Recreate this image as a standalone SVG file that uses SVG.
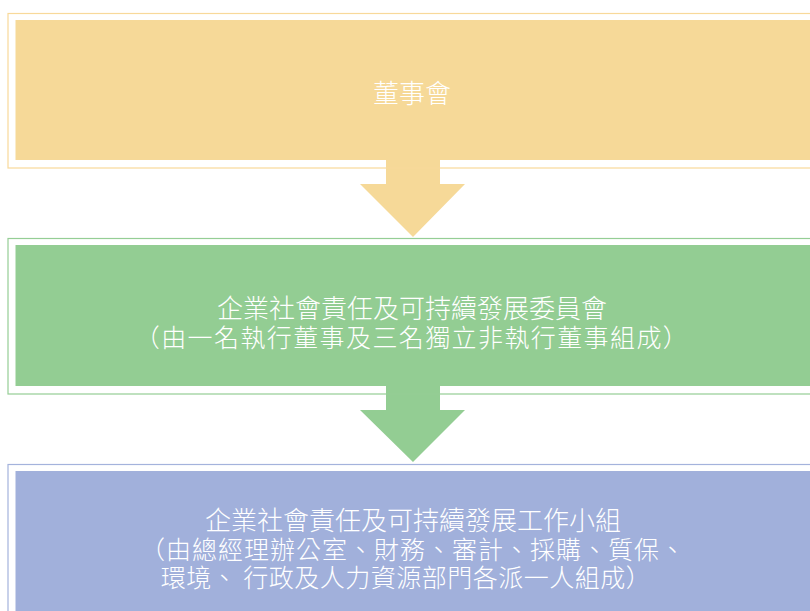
<svg xmlns="http://www.w3.org/2000/svg" width="810" height="611" viewBox="0 0 810 611">
<style>
text{font-family:"Noto Sans CJK TC","Noto Sans CJK SC",sans-serif;fill:#ffffff;text-anchor:middle;font-weight:300;}
.t1{font-size:26px;}
.t2{font-size:25px;}
.y{fill:#F6D998;}
.yb{fill:none;stroke:#F8D99A;stroke-width:1.2;}
.g{fill:#93CD93;}
.gb{fill:none;stroke:#95CE95;stroke-width:1.2;}
.b{fill:#A1B0DB;}
.bb{fill:none;stroke:#A4B3DC;stroke-width:1.2;}
</style>
<rect width="810" height="611" fill="#ffffff"/>
<g id="connectors">
<polygon class="y" points="386,159 440,159 440,184 465,184 413,237 360,184 386,184"/>
<polygon class="g" points="386,385 440,385 440,410 465,410 413,462 360,410 386,410"/>
</g>
<g id="board">
<rect class="yb" x="8" y="13.5" width="812" height="154.5"/>
<rect class="y" x="15.5" y="20" width="800" height="140"/>
<text class="t1" x="412" y="103">董事會</text>
</g>
<g id="committee">
<rect class="gb" x="8" y="238.5" width="812" height="155.5"/>
<rect class="g" x="15.5" y="245" width="800" height="141"/>
<text class="t1" x="412" y="318">企業社會責任及可持續發展委員會</text>
<text class="t2" x="412" y="347" letter-spacing="1.4">（由一名執行董事及三名獨立非執行董事組成）</text>
</g>
<g id="workgroup">
<rect class="bb" x="8" y="464.5" width="812" height="160"/>
<rect class="b" x="15.5" y="471" width="800" height="150"/>
<text class="t1" x="413" y="530">企業社會責任及可持續發展工作小組</text>
<text class="t2" x="413" y="559" letter-spacing="1">（由總經理辦公室、財務、審計、採購、質保、</text>
<text class="t2" x="406" y="587" letter-spacing="0.5">環境、 行政及人力資源部門各派一人組成）</text>
</g>
</svg>
